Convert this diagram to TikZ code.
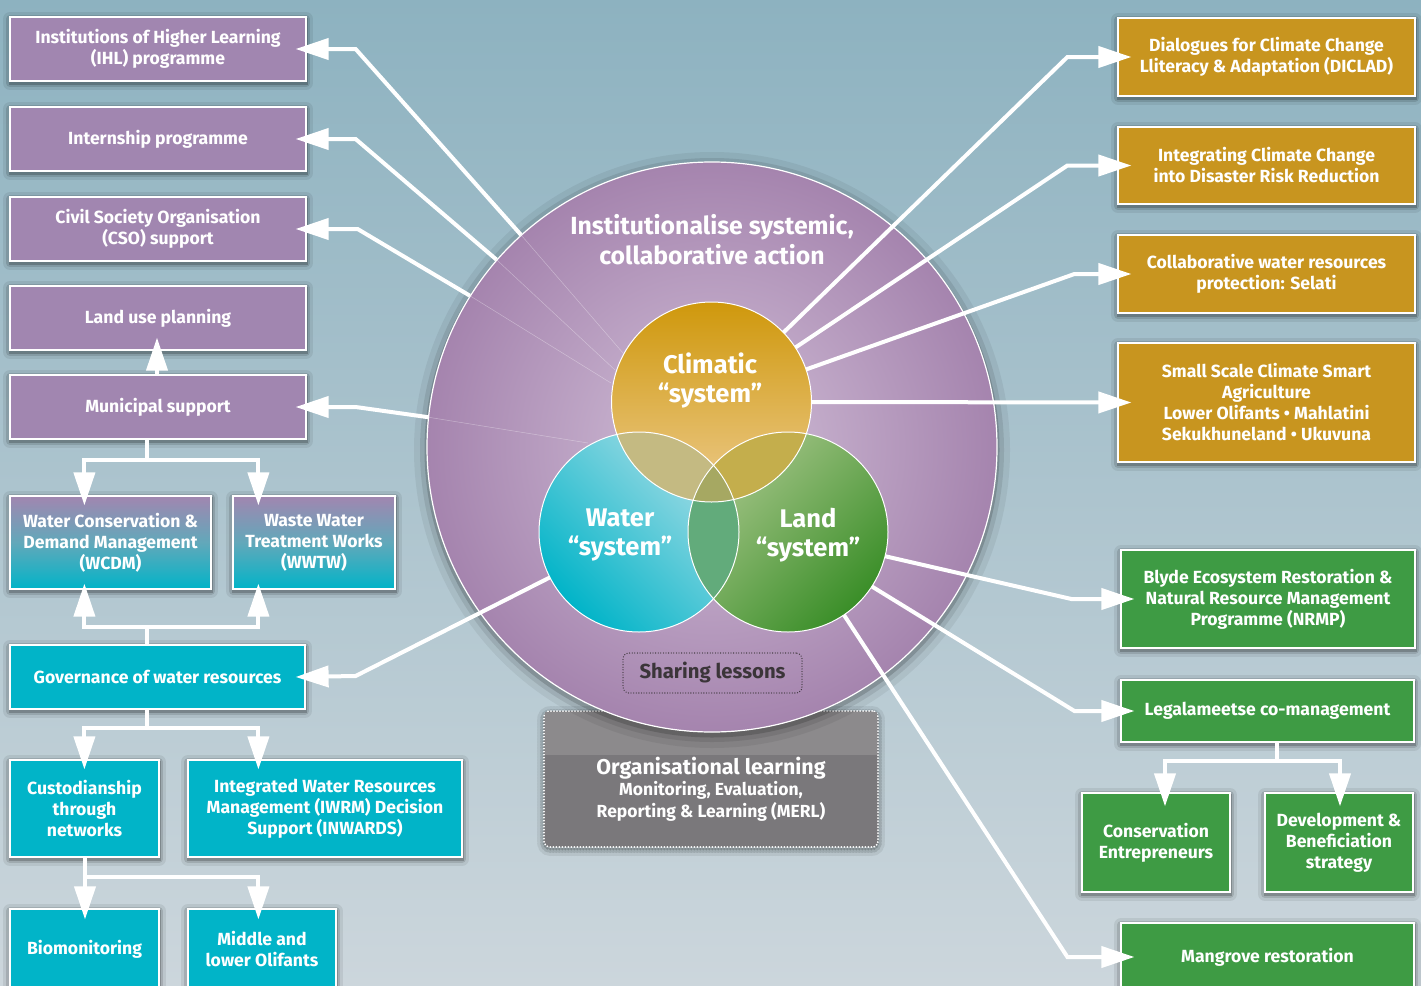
\documentclass[tikz,border=0pt]{standalone}
\usepackage{fontspec}
\setmainfont{Fira Sans}
\usetikzlibrary{arrows.meta,calc}
\definecolor{cpurple}{HTML}{A186B0}
\definecolor{cgold}{HTML}{C8951F}
\definecolor{cgreen}{HTML}{3E9B44}
\definecolor{cteal}{HTML}{01B4C8}
\definecolor{cmid}{HTML}{62A8BA}
\definecolor{bgtop}{HTML}{8DB2C0}
\definecolor{bgmid}{HTML}{C0CED6}
\definecolor{bgbot}{HTML}{CCD6DC}
\definecolor{outin}{HTML}{D2C0D8}
\definecolor{outout}{HTML}{A584AE}
\definecolor{cwc}{HTML}{C4BA82}
\definecolor{clc}{HTML}{C4AE4C}
\definecolor{cwl}{HTML}{62AB7B}
\definecolor{cwlc}{HTML}{A6A862}
\definecolor{orgdark}{HTML}{7A787B}
\definecolor{orglight}{HTML}{8C8A8C}
\definecolor{sharetext}{HTML}{3B3539}
\definecolor{wlight}{HTML}{A8DDE6}
\definecolor{llight}{HTML}{A9C78C}
\definecolor{ldark}{HTML}{3A8E28}
\definecolor{ctop}{HTML}{CF980C}
\definecolor{cbot}{HTML}{EDCB8E}
\begin{document}
\begin{tikzpicture}[x=1pt,y=-1pt,
  halo/.style={
    preaction={draw=black,line width=14pt,opacity=0.07,line join=round,transform canvas={yshift=-2pt}},
    preaction={draw=black,line width=8pt,opacity=0.12,line join=round,transform canvas={yshift=-2pt}},
    preaction={draw=black,line width=3pt,opacity=0.2,transform canvas={yshift=-2pt}}},
  box/.style={halo,draw=white,line width=1.2pt,text=white,align=center,inner sep=0pt,
    font=\bfseries\fontsize{17.6}{21}\selectfont},
  pbox/.style={box,fill=cpurple},
  gbox/.style={box,fill=cgold},
  grbox/.style={box,fill=cgreen},
  tbox/.style={box,fill=cteal},
  mbox/.style={box,top color=cpurple,bottom color=cteal,middle color=cmid},
  vc/.style={circle,minimum size=200pt,inner sep=0pt},
  conn/.style={draw=white,line width=4pt,line join=miter,-{Triangle[length=33pt,width=21pt]}},
  stem/.style={draw=white,line width=4pt},
  faint/.style={draw=white,line width=0.5pt,opacity=0.35},
  lbl/.style={text=white,align=center,font=\bfseries\fontsize{25.5}{29}\selectfont}
]
\useasboundingbox (0,0) rectangle (1421,985);
\shade[top color=bgtop,middle color=bgmid,bottom color=bgbot] (0,0) rectangle (1421,985);

% organisational learning box (under the circle)
\node[halo,draw=white,line width=2pt,dash pattern=on 0pt off 3pt,line cap=round,
  rounded corners=6pt,fill=orgdark,minimum width=334pt,minimum height=136pt] (org) at (711,779) {};
\fill[orglight] ($(org.north west)+(2,2)$) rectangle ($(org.north east)+(-2,45)$);
\node[text=white,align=center,font=\bfseries\fontsize{17.5}{22}\selectfont] (orgt) at (711,789)
  {\fontsize{21.4}{24}\selectfont Organisational learning\\[-1pt]\fontsize{17.5}{22}\selectfont Monitoring, Evaluation,\\Reporting \& Learning (MERL)};

% outer circle
\node[circle,minimum size=570pt,inner sep=0pt,draw=white,line width=1.2pt,
  inner color=outin,outer color=outout,
  preaction={draw=black,line width=26pt,opacity=0.06,transform canvas={yshift=-3pt}},
  preaction={draw=black,line width=14pt,opacity=0.09,transform canvas={yshift=-3pt}},
  preaction={draw=black,line width=5pt,opacity=0.16,transform canvas={yshift=-3pt}}] (outer) at (712,447) {};

% faint guide lines
\draw[faint] (outer.132) -- (623,353);
\draw[faint] (outer.139) -- (615,370);
\draw[faint] (outer.148) -- (611,383);
\draw[faint] (outer.174) -- (588,443);

\node[lbl,font=\bfseries\fontsize{24.8}{30}\selectfont] (title) at (712,240) {Institutionalise systemic,\\collaborative action};

% Venn circles
\node[vc,top color=wlight,bottom color=cteal,shading angle=-45] (water) at (639,532) {};
\node[vc,top color=llight,bottom color=ldark,shading angle=45] (landc) at (788,532) {};
\node[vc,top color=ctop,bottom color=cbot] (clim) at (711.5,402) {};
\begin{scope}\clip (water.center) circle[radius=100pt]; \fill[cwc] (clim.center) circle[radius=100pt];\end{scope}
\begin{scope}\clip (landc.center) circle[radius=100pt]; \fill[clc] (clim.center) circle[radius=100pt];\end{scope}
\begin{scope}\clip (water.center) circle[radius=100pt]; \fill[cwl] (landc.center) circle[radius=100pt];\end{scope}
\begin{scope}\clip (water.center) circle[radius=100pt]; \clip (landc.center) circle[radius=100pt];
  \fill[cwlc] (clim.center) circle[radius=100pt];\end{scope}
\draw[white,line width=1pt] (water.center) circle[radius=100pt];
\draw[white,line width=1pt] (landc.center) circle[radius=100pt];
\draw[white,line width=1pt] (clim.center) circle[radius=100pt];
\node[lbl] (climt) at (710,380) {Climatic\\“system”};
\node[lbl] (watert) at (620,535) {Water\\“system”};
\node[lbl] (landt) at (808,535) {Land\\“system”};

\node[draw=sharetext,line width=1.3pt,dash pattern=on 0pt off 2.6pt,line cap=round,rounded corners=6pt,
  minimum width=179pt,minimum height=40pt,text=sharetext,
  font=\bfseries\fontsize{20.3}{22}\selectfont] (share) at (712.5,673) {Sharing lessons};

% left boxes
\node[pbox,minimum width=296pt,minimum height=64pt] (ihl) at (158,49) {Institutions of Higher Learning\\(IHL) programme};
\node[pbox,minimum width=296pt,minimum height=64pt] (intern) at (158,139) {Internship programme};
\node[pbox,minimum width=296pt,minimum height=64pt] (cso) at (158,229) {Civil Society Organisation\\(CSO) support};
\node[pbox,minimum width=296pt,minimum height=64pt] (lup) at (158,318) {Land use planning};
\node[pbox,minimum width=296pt,minimum height=64pt] (muni) at (158,407) {Municipal support};
\node[mbox,minimum width=201pt,minimum height=93pt] (wcdm) at (110.5,542.5) {Water Conservation \&\\Demand Management\\(WCDM)};
\node[mbox,minimum width=162pt,minimum height=93pt] (wwtw) at (314,542.5) {Waste Water\\Treatment Works\\(WWTW)};
\node[tbox,minimum width=295pt,minimum height=64pt] (gov) at (157.5,677) {Governance of water resources};
\node[tbox,minimum width=149pt,minimum height=97pt] (cust) at (84.5,808.5) {Custodianship\\through\\networks};
\node[tbox,minimum width=274pt,minimum height=97pt] (iwrm) at (325,808.5) {Integrated Water Resources\\Management (IWRM) Decision\\Support (INWARDS)};
\node[tbox,minimum width=149pt,minimum height=80pt] (bio) at (84.5,949) {Biomonitoring};
\node[tbox,minimum width=148pt,minimum height=80pt] (mid) at (262,949) {Middle and\\lower Olifants};

% right boxes
\node[gbox,minimum width=297pt,minimum height=78pt] (diclad) at (1266.5,57) {Dialogues for Climate Change\\Lliteracy \& Adaptation (DICLAD)};
\node[gbox,minimum width=297pt,minimum height=77pt] (idrr) at (1266.5,165.5) {Integrating Climate Change\\into Disaster Risk Reduction};
\node[gbox,minimum width=297pt,minimum height=78pt] (selati) at (1266.5,274) {Collaborative water resources\\protection: Selati};
\node[gbox,minimum width=297pt,minimum height=119pt] (csa) at (1266.5,402.5) {Small Scale Climate Smart\\Agriculture\\Lower Olifants • Mahlatini\\Sekukhuneland • Ukuvuna};
\node[grbox,minimum width=294pt,minimum height=98pt] (blyde) at (1268,599) {Blyde Ecosystem Restoration \&\\Natural Resource Management\\Programme (NRMP)};
\node[grbox,minimum width=293pt,minimum height=62pt] (legal) at (1267.5,711) {Legalameetse co-management};
\node[grbox,minimum width=148pt,minimum height=99pt] (cons) at (1156,842.5) {Conservation\\Entrepreneurs};
\node[grbox,minimum width=148pt,minimum height=99pt] (dev) at (1339,842.5) {Development \&\\Beneficiation\\strategy};
\node[grbox,minimum width=293pt,minimum height=68pt] (mang) at (1267.5,957) {Mangrove restoration};

% connectors, left
\draw[conn] (outer.132) -- ($(ihl.east)+(49,0)$) -- ($(ihl.east)+(-11,0)$);
\draw[conn] (outer.139) -- ($(intern.east)+(49,0)$) -- ($(intern.east)+(-11,0)$);
\draw[conn] (outer.148) -- ($(cso.east)+(51,0)$) -- ($(cso.east)+(-11,0)$);
\draw[conn] (outer.174) -- ($(muni.east)+(49,0)$) -- ($(muni.east)+(-11,0)$);
\draw[conn] (water.207) -- ($(gov.east)+(50,-1)$) -- ($(gov.east)+(-10,0)$);
% connectors, right
\draw[conn] (clim.44) -- ($(diclad.west)+(-50,0)$) -- ($(diclad.west)+(14,0)$);
\draw[conn] (clim.33) -- ($(idrr.west)+(-50,0)$) -- ($(idrr.west)+(14,0)$);
\draw[conn] (clim.19) -- ($(selati.west)+(-43,0)$) -- ($(selati.west)+(14,0)$);
\draw[conn] (clim.0) -- ($(csa.west)+(14,0)$);
\draw[conn] (landc.346) -- ($(blyde.west)+(-49,0)$) -- ($(blyde.west)+(14,0)$);
\draw[conn] (landc.327) -- ($(legal.west)+(-46,0)$) -- ($(legal.west)+(14,0)$);
\draw[conn] (landc.304) -- ($(mang.west)+(-53,0)$) -- ($(mang.west)+(14,0)$);
% tree connectors
\draw[conn] ($(muni.north)+(-1,0)$) -- ($(lup.south)+(-1,-13)$);
\coordinate (j1) at ($(muni.south)+(-11,20)$);
\draw[stem] ($(muni.south)+(-11,0)$) -- (j1);
\draw[conn] (j1) -| ($(wcdm.north west)+(75,10)$);
\draw[conn] (j1) -| ($(wwtw.north west)+(26,10)$);
\coordinate (j2) at ($(gov.north)+(-10.5,-17)$);
\draw[stem] ($(gov.north)+(-10.5,0)$) -- (j2);
\draw[conn] (j2) -| ($(wcdm.south west)+(75,-6)$);
\draw[conn] (j2) -| ($(wwtw.south west)+(26,-6)$);
\coordinate (j3) at ($(gov.south)+(-10.5,18)$);
\draw[stem] ($(gov.south)+(-10.5,0)$) -- (j3);
\draw[conn] (j3) -| ($(cust.north west)+(75,10)$);
\draw[conn] (j3) -| ($(iwrm.north west)+(71,10)$);
\coordinate (j4) at ($(cust.south)+(0.5,19)$);
\draw[conn] ($(cust.south)+(0.5,0)$) -- ($(bio.north)+(0.5,11)$);
\draw[conn] (j4) -| ($(mid.north west)+(71,11)$);
\coordinate (j5) at ($(legal.south)+(9.5,18)$);
\draw[stem] ($(legal.south)+(9.5,0)$) -- (j5);
\draw[conn] (j5) -| ($(cons.north)+(9,14)$);
\draw[conn] (j5) -| ($(dev.north)+(1,14)$);
\end{tikzpicture}
\end{document}
